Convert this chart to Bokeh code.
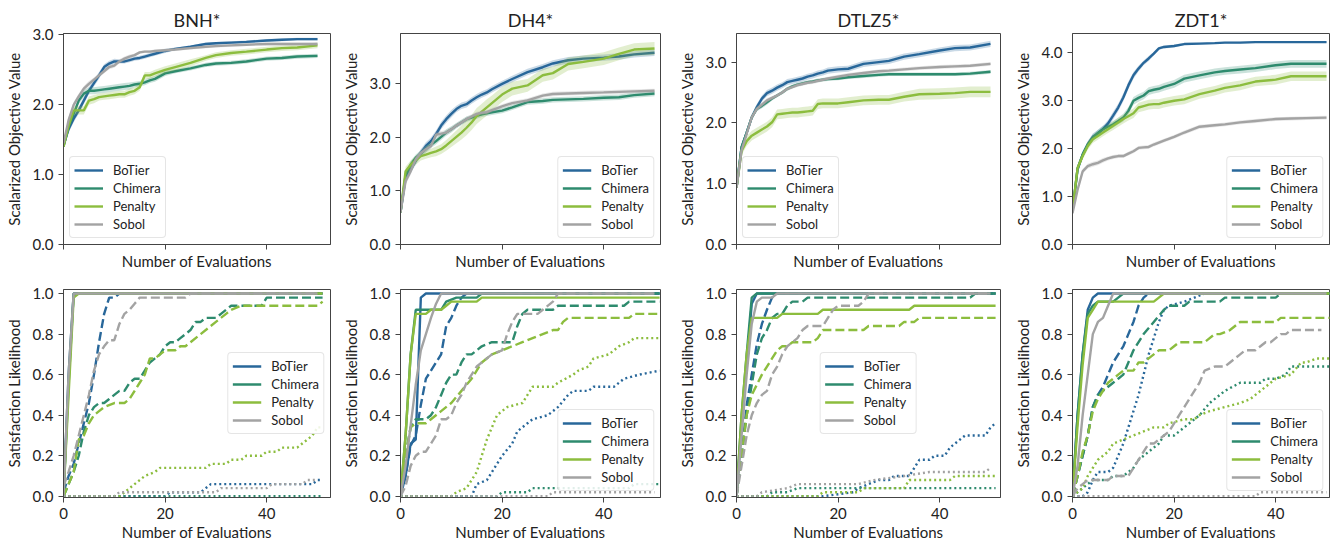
from bokeh.plotting import figure
from bokeh.layouts import row, column
from bokeh.models import Range1d, FixedTicker, PrintfTickFormatter
from bokeh.embed import file_html
from bokeh.resources import INLINE

METHODS = ["BoTier", "Chimera", "Penalty", "Sobol"]
COLORS = {"BoTier": "#28679a", "Chimera": "#2e8b6e", "Penalty": "#8cbd3e", "Sobol": "#a3a3a3"}
PROBLEMS = ["BNH*", "DH4*", "DTLZ5*", "ZDT1*"]
X_TICKS = [0, 20, 40]
SAT_TICKS = [0.0, 0.2, 0.4, 0.6, 0.8, 1.0]

# ---------------- top row: scalarized objective value (mean +/- err) ----------
X_TOP = [0, 1, 2, 3, 4, 5, 6, 7, 8, 9, 10, 11, 12, 13, 14, 15, 16, 17, 18, 20, 22, 25, 28, 30, 33, 36, 40, 43, 46, 50]

BNH_OBJ_BOTIER = [1.42, 1.65, 1.80, 1.92, 2.06, 2.20, 2.31, 2.42, 2.54, 2.59, 2.62, 2.62, 2.62, 2.64, 2.66, 2.67, 2.69, 2.71, 2.73, 2.77, 2.80, 2.83, 2.87, 2.88, 2.89, 2.90, 2.92, 2.93, 2.94, 2.94]
BNH_OBJ_CHIMERA = [1.40, 1.68, 1.87, 2.06, 2.16, 2.20, 2.20, 2.21, 2.22, 2.23, 2.24, 2.25, 2.26, 2.27, 2.29, 2.30, 2.32, 2.35, 2.37, 2.45, 2.48, 2.52, 2.57, 2.59, 2.60, 2.62, 2.66, 2.67, 2.69, 2.70]
BNH_OBJ_PENALTY = [1.40, 1.70, 1.92, 1.92, 1.92, 2.06, 2.08, 2.11, 2.12, 2.13, 2.14, 2.15, 2.15, 2.18, 2.20, 2.25, 2.42, 2.42, 2.45, 2.50, 2.54, 2.60, 2.67, 2.71, 2.74, 2.76, 2.79, 2.81, 2.82, 2.85]
BNH_OBJ_SOBOL = [1.45, 1.78, 2.00, 2.12, 2.23, 2.30, 2.36, 2.42, 2.48, 2.54, 2.56, 2.62, 2.66, 2.69, 2.71, 2.75, 2.76, 2.76, 2.77, 2.78, 2.79, 2.81, 2.83, 2.84, 2.85, 2.86, 2.87, 2.87, 2.87, 2.87]
BNH_ERR_BOTIER = [0.04, 0.05, 0.05, 0.05, 0.05, 0.05, 0.05, 0.05, 0.04, 0.04, 0.04, 0.03, 0.03, 0.03, 0.03, 0.03, 0.03, 0.03, 0.03, 0.03, 0.02, 0.02, 0.02, 0.02, 0.02, 0.02, 0.02, 0.02, 0.02, 0.02]
BNH_ERR_CHIMERA = [0.04, 0.05, 0.05, 0.05, 0.05, 0.05, 0.05, 0.05, 0.05, 0.05, 0.05, 0.05, 0.05, 0.05, 0.04, 0.04, 0.04, 0.04, 0.04, 0.04, 0.03, 0.03, 0.03, 0.03, 0.03, 0.03, 0.03, 0.03, 0.03, 0.03]
BNH_ERR_PENALTY = [0.04, 0.06, 0.06, 0.06, 0.06, 0.06, 0.06, 0.05, 0.05, 0.05, 0.05, 0.05, 0.05, 0.05, 0.05, 0.05, 0.05, 0.05, 0.05, 0.05, 0.05, 0.05, 0.04, 0.04, 0.04, 0.04, 0.04, 0.04, 0.04, 0.04]
BNH_ERR_SOBOL = [0.04, 0.04, 0.04, 0.04, 0.04, 0.04, 0.03, 0.03, 0.03, 0.03, 0.03, 0.03, 0.03, 0.03, 0.02, 0.02, 0.02, 0.02, 0.02, 0.02, 0.02, 0.02, 0.02, 0.02, 0.02, 0.02, 0.02, 0.02, 0.02, 0.02]

DH4_OBJ_BOTIER = [0.60, 1.24, 1.40, 1.56, 1.71, 1.84, 1.93, 2.06, 2.22, 2.34, 2.44, 2.53, 2.59, 2.62, 2.69, 2.75, 2.80, 2.84, 2.90, 3.00, 3.09, 3.22, 3.31, 3.38, 3.44, 3.47, 3.49, 3.51, 3.55, 3.58]
DH4_OBJ_CHIMERA = [0.60, 1.30, 1.49, 1.62, 1.70, 1.78, 1.86, 1.93, 2.01, 2.09, 2.15, 2.22, 2.28, 2.34, 2.37, 2.40, 2.43, 2.45, 2.47, 2.50, 2.56, 2.66, 2.68, 2.70, 2.71, 2.72, 2.74, 2.75, 2.79, 2.82]
DH4_OBJ_PENALTY = [0.60, 1.37, 1.49, 1.57, 1.65, 1.68, 1.71, 1.74, 1.78, 1.85, 1.93, 2.01, 2.09, 2.18, 2.28, 2.40, 2.48, 2.56, 2.64, 2.80, 2.91, 2.97, 3.16, 3.20, 3.37, 3.41, 3.47, 3.56, 3.64, 3.66]
DH4_OBJ_SOBOL = [0.60, 1.18, 1.37, 1.59, 1.71, 1.78, 1.84, 2.05, 2.07, 2.09, 2.15, 2.22, 2.28, 2.34, 2.39, 2.44, 2.46, 2.47, 2.51, 2.58, 2.64, 2.69, 2.78, 2.81, 2.82, 2.83, 2.84, 2.85, 2.86, 2.87]
DH4_ERR_BOTIER = [0.05, 0.07, 0.07, 0.07, 0.07, 0.07, 0.07, 0.07, 0.07, 0.07, 0.07, 0.06, 0.06, 0.06, 0.06, 0.06, 0.06, 0.06, 0.06, 0.06, 0.06, 0.06, 0.06, 0.06, 0.06, 0.06, 0.06, 0.06, 0.06, 0.06]
DH4_ERR_CHIMERA = [0.05, 0.07, 0.07, 0.06, 0.06, 0.06, 0.06, 0.06, 0.06, 0.06, 0.06, 0.05, 0.05, 0.05, 0.05, 0.05, 0.05, 0.05, 0.05, 0.05, 0.05, 0.05, 0.05, 0.05, 0.05, 0.05, 0.05, 0.05, 0.05, 0.05]
DH4_ERR_PENALTY = [0.05, 0.08, 0.08, 0.08, 0.08, 0.08, 0.08, 0.09, 0.09, 0.10, 0.11, 0.12, 0.13, 0.14, 0.14, 0.15, 0.15, 0.15, 0.14, 0.14, 0.13, 0.12, 0.12, 0.12, 0.12, 0.12, 0.12, 0.12, 0.12, 0.12]
DH4_ERR_SOBOL = [0.05, 0.07, 0.07, 0.06, 0.06, 0.06, 0.05, 0.05, 0.05, 0.05, 0.05, 0.05, 0.05, 0.05, 0.04, 0.04, 0.04, 0.04, 0.04, 0.04, 0.04, 0.04, 0.04, 0.04, 0.04, 0.04, 0.04, 0.04, 0.04, 0.04]

DTLZ5_OBJ_BOTIER = [0.93, 1.60, 1.84, 2.09, 2.26, 2.40, 2.49, 2.53, 2.58, 2.62, 2.67, 2.69, 2.71, 2.73, 2.76, 2.78, 2.81, 2.83, 2.86, 2.88, 2.89, 2.97, 3.00, 3.02, 3.09, 3.13, 3.19, 3.23, 3.24, 3.30]
DTLZ5_OBJ_CHIMERA = [0.93, 1.60, 1.84, 2.09, 2.23, 2.28, 2.34, 2.40, 2.45, 2.50, 2.56, 2.60, 2.63, 2.65, 2.67, 2.68, 2.70, 2.71, 2.72, 2.73, 2.75, 2.77, 2.79, 2.80, 2.80, 2.80, 2.80, 2.80, 2.81, 2.84]
DTLZ5_OBJ_PENALTY = [0.93, 1.54, 1.70, 1.79, 1.84, 1.89, 1.94, 2.01, 2.14, 2.15, 2.16, 2.17, 2.17, 2.18, 2.19, 2.20, 2.31, 2.32, 2.32, 2.32, 2.34, 2.37, 2.38, 2.38, 2.43, 2.47, 2.48, 2.49, 2.51, 2.51]
DTLZ5_OBJ_SOBOL = [0.93, 1.55, 1.82, 2.09, 2.23, 2.30, 2.37, 2.41, 2.45, 2.50, 2.56, 2.59, 2.62, 2.64, 2.66, 2.67, 2.69, 2.71, 2.73, 2.76, 2.79, 2.82, 2.85, 2.86, 2.88, 2.90, 2.92, 2.93, 2.94, 2.97]
DTLZ5_ERR_BOTIER = [0.04, 0.06, 0.05, 0.05, 0.05, 0.05, 0.05, 0.05, 0.05, 0.05, 0.05, 0.05, 0.05, 0.05, 0.05, 0.05, 0.05, 0.05, 0.05, 0.05, 0.05, 0.05, 0.05, 0.05, 0.05, 0.05, 0.05, 0.05, 0.05, 0.05]
DTLZ5_ERR_CHIMERA = [0.04, 0.05, 0.05, 0.04, 0.04, 0.04, 0.04, 0.03, 0.03, 0.03, 0.03, 0.03, 0.03, 0.03, 0.03, 0.03, 0.03, 0.03, 0.03, 0.03, 0.03, 0.03, 0.03, 0.03, 0.03, 0.03, 0.03, 0.03, 0.03, 0.03]
DTLZ5_ERR_PENALTY = [0.04, 0.07, 0.08, 0.08, 0.08, 0.08, 0.08, 0.08, 0.08, 0.08, 0.08, 0.08, 0.08, 0.08, 0.08, 0.08, 0.08, 0.08, 0.08, 0.08, 0.08, 0.08, 0.08, 0.08, 0.08, 0.09, 0.09, 0.09, 0.09, 0.09]
DTLZ5_ERR_SOBOL = [0.04, 0.05, 0.05, 0.04, 0.04, 0.04, 0.04, 0.03, 0.03, 0.03, 0.03, 0.03, 0.03, 0.03, 0.03, 0.03, 0.03, 0.03, 0.03, 0.03, 0.03, 0.03, 0.03, 0.03, 0.03, 0.03, 0.03, 0.03, 0.03, 0.03]

ZDT1_OBJ_BOTIER = [0.70, 1.56, 1.87, 2.08, 2.24, 2.31, 2.40, 2.52, 2.68, 2.85, 3.06, 3.31, 3.52, 3.66, 3.78, 3.87, 3.97, 4.08, 4.11, 4.13, 4.17, 4.18, 4.19, 4.20, 4.20, 4.21, 4.21, 4.21, 4.21, 4.21]
ZDT1_OBJ_CHIMERA = [0.70, 1.59, 1.87, 2.08, 2.22, 2.32, 2.40, 2.45, 2.50, 2.57, 2.64, 2.78, 2.99, 3.05, 3.10, 3.19, 3.22, 3.24, 3.28, 3.34, 3.45, 3.52, 3.58, 3.61, 3.64, 3.67, 3.73, 3.76, 3.76, 3.76]
ZDT1_OBJ_PENALTY = [0.70, 1.59, 1.84, 2.05, 2.19, 2.26, 2.33, 2.40, 2.47, 2.54, 2.61, 2.67, 2.73, 2.85, 2.88, 2.91, 2.92, 2.92, 2.95, 2.99, 3.02, 3.13, 3.20, 3.26, 3.31, 3.39, 3.43, 3.50, 3.50, 3.50]
ZDT1_OBJ_SOBOL = [0.65, 1.14, 1.52, 1.63, 1.67, 1.70, 1.75, 1.79, 1.82, 1.84, 1.84, 1.89, 1.94, 2.01, 2.02, 2.03, 2.08, 2.12, 2.16, 2.24, 2.33, 2.45, 2.48, 2.50, 2.54, 2.57, 2.61, 2.62, 2.63, 2.64]
ZDT1_ERR_BOTIER = [0.05, 0.07, 0.07, 0.07, 0.07, 0.07, 0.07, 0.07, 0.08, 0.08, 0.08, 0.08, 0.07, 0.06, 0.05, 0.05, 0.04, 0.03, 0.03, 0.03, 0.02, 0.02, 0.02, 0.02, 0.02, 0.02, 0.02, 0.02, 0.02, 0.02]
ZDT1_ERR_CHIMERA = [0.05, 0.07, 0.07, 0.07, 0.07, 0.07, 0.07, 0.07, 0.07, 0.07, 0.08, 0.08, 0.08, 0.08, 0.08, 0.08, 0.08, 0.08, 0.08, 0.08, 0.08, 0.08, 0.08, 0.08, 0.08, 0.08, 0.08, 0.08, 0.08, 0.08]
ZDT1_ERR_PENALTY = [0.05, 0.07, 0.07, 0.08, 0.08, 0.08, 0.08, 0.08, 0.09, 0.09, 0.09, 0.09, 0.10, 0.10, 0.10, 0.10, 0.10, 0.10, 0.10, 0.10, 0.10, 0.10, 0.10, 0.10, 0.10, 0.10, 0.10, 0.10, 0.10, 0.10]
ZDT1_ERR_SOBOL = [0.05, 0.05, 0.05, 0.05, 0.05, 0.05, 0.05, 0.04, 0.04, 0.04, 0.04, 0.04, 0.04, 0.04, 0.04, 0.04, 0.04, 0.04, 0.04, 0.04, 0.04, 0.04, 0.04, 0.04, 0.04, 0.04, 0.04, 0.04, 0.04, 0.04]

TOP_YMAX = [3.02, 3.94, 3.47, 4.39]
TOP_YTICKS = [[0, 1, 2, 3], [0, 1, 2, 3], [0, 1, 2, 3], [0, 1, 2, 3, 4]]

# ---------------- bottom row: satisfaction likelihood (x, y) breakpoints ---------
BNH_BOTIER_SOLID = [(0, 0), (1, 0.6), (2, 1.0), (51, 1.0)]
BNH_CHIMERA_SOLID = [(0, 0), (1, 0.55), (2, 1.0), (51, 1.0)]
BNH_PENALTY_SOLID = [(0, 0), (1, 0.5), (2, 0.98), (3, 1.0), (51, 1.0)]
BNH_SOBOL_SOLID = [(0, 0), (1, 0.6), (2, 1.0), (50, 1.0)]
BNH_BOTIER_DASH = [(0, 0.02), (1, 0.1), (2, 0.16), (3, 0.26), (4, 0.36), (5, 0.46), (6, 0.6), (7, 0.76), (8, 0.9), (9, 0.98), (10, 0.98), (11, 1.0), (51, 1.0)]
BNH_CHIMERA_DASH = [(0, 0), (1, 0.06), (2, 0.12), (3, 0.2), (4, 0.32), (5, 0.4), (6, 0.44), (7, 0.46), (8, 0.46), (9, 0.48), (10, 0.5), (11, 0.52), (12, 0.52), (13, 0.56), (14, 0.58), (15, 0.58), (16, 0.62), (17, 0.66), (18, 0.68), (19, 0.7), (20, 0.74), (21, 0.76), (22, 0.76), (23, 0.78), (24, 0.8), (25, 0.82), (26, 0.86), (27, 0.86), (28, 0.88), (30, 0.88), (31, 0.9), (32, 0.92), (33, 0.94), (39, 0.94), (40, 0.98), (51, 0.98)]
BNH_PENALTY_DASH = [(0, 0), (1, 0.06), (2, 0.12), (3, 0.28), (4, 0.3), (5, 0.36), (6, 0.4), (7, 0.42), (8, 0.44), (10, 0.46), (12, 0.46), (13, 0.48), (14, 0.52), (15, 0.56), (16, 0.6), (17, 0.68), (18, 0.68), (19, 0.7), (20, 0.72), (22, 0.72), (23, 0.74), (24, 0.74), (25, 0.76), (27, 0.8), (30, 0.86), (32, 0.9), (33, 0.92), (35, 0.94), (50, 0.94), (51, 0.96)]
BNH_SOBOL_DASH = [(0, 0.05), (1, 0.12), (2, 0.2), (3, 0.3), (4, 0.4), (5, 0.5), (6, 0.62), (7, 0.7), (8, 0.74), (9, 0.77), (10, 0.77), (11, 0.85), (12, 0.9), (13, 0.92), (14, 0.95), (15, 0.98), (24, 0.98), (25, 1.0), (50, 1.0)]
BNH_BOTIER_DOT = [(0, 0), (20, 0), (21, 0.02), (27, 0.02), (28, 0.04), (29, 0.06), (49, 0.06), (50, 0.08), (51, 0.08)]
BNH_CHIMERA_DOT = [(0, 0), (51, 0)]
BNH_PENALTY_DOT = [(0, 0), (11, 0), (12, 0.02), (13, 0.04), (14, 0.06), (15, 0.08), (16, 0.1), (18, 0.12), (19, 0.14), (28, 0.14), (29, 0.16), (32, 0.16), (33, 0.18), (35, 0.18), (36, 0.2), (39, 0.2), (40, 0.22), (42, 0.22), (43, 0.24), (46, 0.24), (48, 0.28), (49, 0.3), (50, 0.34), (51, 0.34)]
BNH_SOBOL_DOT = [(0, 0), (10, 0), (11, 0.02), (30, 0.02), (31, 0.04), (40, 0.04), (41, 0.06), (47, 0.06), (48, 0.08), (50, 0.08)]

DH4_BOTIER_SOLID = [(0, 0), (1, 0.1), (2, 0.26), (3, 0.28), (4, 0.98), (5, 1.0), (51, 1.0)]
DH4_CHIMERA_SOLID = [(0, 0), (1, 0.3), (2, 0.7), (3, 0.92), (8, 0.92), (9, 0.96), (11, 0.98), (15, 0.98), (16, 1.0), (51, 1.0)]
DH4_PENALTY_SOLID = [(0, 0), (1, 0.3), (2, 0.7), (3, 0.9), (5, 0.9), (6, 0.92), (8, 0.92), (9, 0.94), (10, 0.96), (15, 0.96), (16, 0.98), (51, 0.98)]
DH4_SOBOL_SOLID = [(0, 0), (1, 0.15), (2, 0.35), (3, 0.55), (4, 0.72), (5, 0.8), (6, 0.88), (7, 0.95), (8, 1.0), (50, 1.0)]
DH4_BOTIER_DASH = [(0, 0), (1, 0.1), (2, 0.25), (3, 0.3), (4, 0.45), (5, 0.58), (6, 0.62), (7, 0.66), (8, 0.7), (9, 0.84), (10, 0.88), (11, 0.94), (12, 0.98), (13, 1.0), (51, 1.0)]
DH4_CHIMERA_DASH = [(0, 0), (1, 0.2), (2, 0.34), (3, 0.38), (5, 0.38), (6, 0.4), (7, 0.44), (8, 0.5), (9, 0.56), (10, 0.6), (11, 0.6), (12, 0.66), (13, 0.7), (14, 0.7), (15, 0.72), (16, 0.74), (18, 0.76), (22, 0.76), (23, 0.84), (24, 0.9), (25, 0.92), (30, 0.92), (31, 0.94), (44, 0.94), (45, 0.96), (51, 0.96)]
DH4_PENALTY_DASH = [(0, 0), (1, 0.2), (2, 0.34), (3, 0.36), (5, 0.36), (6, 0.38), (8, 0.42), (10, 0.46), (12, 0.52), (14, 0.58), (16, 0.66), (18, 0.7), (20, 0.72), (22, 0.74), (24, 0.76), (26, 0.78), (28, 0.8), (30, 0.82), (31, 0.82), (32, 0.86), (33, 0.88), (45, 0.88), (46, 0.9), (51, 0.9)]
DH4_SOBOL_DASH = [(0, 0), (1, 0.05), (2, 0.15), (3, 0.2), (4, 0.22), (5, 0.22), (6, 0.26), (7, 0.3), (8, 0.38), (9, 0.38), (10, 0.4), (11, 0.46), (12, 0.5), (13, 0.56), (14, 0.6), (15, 0.64), (16, 0.66), (17, 0.68), (18, 0.7), (20, 0.72), (21, 0.8), (22, 0.86), (23, 0.9), (27, 0.9), (28, 0.92), (30, 0.96), (31, 1.0), (50, 1.0)]
DH4_BOTIER_DOT = [(0, 0), (14, 0), (15, 0.06), (17, 0.08), (18, 0.12), (19, 0.16), (20, 0.2), (22, 0.26), (23, 0.32), (25, 0.36), (26, 0.38), (29, 0.4), (31, 0.44), (33, 0.5), (34, 0.52), (37, 0.52), (38, 0.54), (42, 0.54), (44, 0.58), (47, 0.6), (51, 0.62)]
DH4_CHIMERA_DOT = [(0, 0), (19, 0), (20, 0.02), (25, 0.02), (26, 0.04), (45, 0.04), (46, 0.06), (51, 0.06)]
DH4_PENALTY_DOT = [(0, 0), (10, 0), (11, 0.02), (13, 0.04), (14, 0.08), (15, 0.12), (16, 0.2), (17, 0.28), (18, 0.34), (19, 0.4), (20, 0.42), (21, 0.44), (24, 0.46), (25, 0.5), (26, 0.54), (30, 0.54), (31, 0.56), (34, 0.6), (35, 0.62), (37, 0.64), (38, 0.68), (41, 0.7), (43, 0.74), (45, 0.76), (46, 0.78), (51, 0.78)]
DH4_SOBOL_DOT = [(0, 0), (29, 0), (30, 0.02), (50, 0.02)]

DTLZ5_BOTIER_SOLID = [(0, 0), (1, 0.35), (2, 0.65), (3, 0.95), (4, 1.0), (51, 1.0)]
DTLZ5_CHIMERA_SOLID = [(0, 0), (1, 0.4), (2, 0.7), (3, 0.98), (4, 1.0), (51, 1.0)]
DTLZ5_PENALTY_SOLID = [(0, 0), (1, 0.4), (2, 0.7), (3, 0.88), (8, 0.88), (9, 0.9), (16, 0.9), (17, 0.92), (34, 0.92), (35, 0.94), (51, 0.94)]
DTLZ5_SOBOL_SOLID = [(0, 0), (1, 0.3), (2, 0.6), (3, 0.85), (4, 0.96), (5, 0.98), (7, 0.98), (8, 1.0), (50, 1.0)]
DTLZ5_BOTIER_DASH = [(0, 0), (1, 0.2), (2, 0.45), (3, 0.6), (4, 0.75), (5, 0.85), (6, 0.92), (7, 0.98), (8, 1.0), (51, 1.0)]
DTLZ5_CHIMERA_DASH = [(0, 0), (1, 0.2), (2, 0.4), (3, 0.55), (4, 0.7), (5, 0.78), (6, 0.82), (7, 0.88), (8, 0.9), (9, 0.9), (10, 0.94), (11, 0.96), (13, 0.96), (14, 0.98), (46, 0.98), (47, 1.0), (51, 1.0)]
DTLZ5_PENALTY_DASH = [(0, 0), (1, 0.2), (2, 0.4), (3, 0.5), (4, 0.55), (5, 0.6), (6, 0.64), (7, 0.68), (8, 0.72), (9, 0.74), (10, 0.74), (11, 0.76), (15, 0.76), (16, 0.78), (17, 0.82), (25, 0.82), (26, 0.84), (32, 0.84), (33, 0.86), (35, 0.86), (36, 0.88), (51, 0.88)]
DTLZ5_SOBOL_DASH = [(0, 0), (1, 0.15), (2, 0.3), (3, 0.4), (4, 0.46), (5, 0.5), (6, 0.52), (7, 0.6), (8, 0.64), (9, 0.7), (10, 0.74), (11, 0.76), (12, 0.78), (13, 0.82), (14, 0.84), (17, 0.84), (18, 0.88), (19, 0.92), (20, 0.94), (24, 0.94), (25, 0.96), (26, 1.0), (50, 1.0)]
DTLZ5_BOTIER_DOT = [(0, 0), (17, 0), (23, 0.02), (24, 0.04), (26, 0.06), (28, 0.08), (30, 0.08), (31, 0.1), (34, 0.1), (35, 0.14), (36, 0.18), (38, 0.18), (39, 0.2), (41, 0.2), (42, 0.24), (44, 0.28), (45, 0.3), (49, 0.3), (50, 0.34), (51, 0.36)]
DTLZ5_CHIMERA_DOT = [(0, 0), (6, 0), (7, 0.02), (10, 0.02), (12, 0.04), (51, 0.04)]
DTLZ5_PENALTY_DOT = [(0, 0), (16, 0), (17, 0.02), (24, 0.02), (25, 0.04), (33, 0.04), (34, 0.08), (42, 0.08), (43, 0.1), (51, 0.1)]
DTLZ5_SOBOL_DOT = [(0, 0), (4, 0), (5, 0.02), (10, 0.04), (12, 0.06), (24, 0.06), (27, 0.08), (33, 0.1), (38, 0.12), (49, 0.12), (50, 0.14)]

ZDT1_BOTIER_SOLID = [(0, 0), (1, 0.4), (2, 0.7), (3, 0.92), (4, 0.98), (5, 1.0), (51, 1.0)]
ZDT1_CHIMERA_SOLID = [(0, 0), (1, 0.4), (2, 0.7), (3, 0.9), (4, 0.94), (5, 0.96), (8, 0.96), (9, 0.98), (10, 1.0), (51, 1.0)]
ZDT1_PENALTY_SOLID = [(0, 0), (1, 0.35), (2, 0.65), (3, 0.88), (4, 0.92), (5, 0.96), (16, 0.96), (17, 0.98), (18, 1.0), (51, 1.0)]
ZDT1_SOBOL_SOLID = [(0, 0), (1, 0.15), (2, 0.4), (3, 0.6), (4, 0.8), (5, 0.86), (6, 0.88), (7, 0.94), (8, 1.0), (50, 1.0)]
ZDT1_BOTIER_DASH = [(0, 0), (1, 0.1), (2, 0.2), (3, 0.3), (4, 0.44), (5, 0.5), (6, 0.54), (7, 0.6), (8, 0.66), (9, 0.7), (10, 0.74), (11, 0.8), (12, 0.86), (13, 0.94), (14, 0.98), (15, 1.0), (51, 1.0)]
ZDT1_CHIMERA_DASH = [(0, 0), (1, 0.1), (2, 0.2), (3, 0.3), (4, 0.44), (5, 0.5), (6, 0.52), (8, 0.56), (9, 0.58), (10, 0.6), (11, 0.66), (12, 0.72), (14, 0.8), (16, 0.86), (18, 0.92), (19, 0.94), (22, 0.94), (23, 0.96), (29, 0.96), (30, 0.98), (40, 0.98), (41, 1.0), (51, 1.0)]
ZDT1_PENALTY_DASH = [(0, 0), (1, 0.1), (2, 0.22), (3, 0.3), (4, 0.42), (5, 0.48), (6, 0.52), (7, 0.56), (8, 0.58), (9, 0.6), (10, 0.62), (12, 0.62), (13, 0.66), (14, 0.66), (15, 0.68), (16, 0.7), (17, 0.72), (19, 0.72), (20, 0.74), (21, 0.76), (26, 0.76), (27, 0.78), (28, 0.8), (29, 0.8), (31, 0.82), (32, 0.84), (33, 0.86), (40, 0.86), (41, 0.88), (51, 0.88)]
ZDT1_SOBOL_DASH = [(0, 0), (1, 0.04), (2, 0.06), (3, 0.08), (7, 0.08), (8, 0.1), (11, 0.1), (12, 0.14), (13, 0.18), (14, 0.22), (15, 0.26), (16, 0.26), (17, 0.28), (19, 0.32), (20, 0.36), (21, 0.4), (22, 0.44), (23, 0.48), (24, 0.52), (25, 0.56), (26, 0.62), (28, 0.64), (30, 0.64), (31, 0.66), (32, 0.68), (33, 0.7), (34, 0.72), (36, 0.72), (37, 0.74), (38, 0.76), (39, 0.76), (40, 0.78), (41, 0.8), (42, 0.8), (43, 0.82), (49, 0.82)]
ZDT1_BOTIER_DOT = [(0, 0), (2, 0), (3, 0.02), (4, 0.08), (5, 0.12), (7, 0.12), (8, 0.14), (9, 0.2), (10, 0.26), (11, 0.34), (12, 0.42), (13, 0.5), (14, 0.6), (15, 0.7), (16, 0.78), (17, 0.86), (18, 0.92), (19, 0.94), (22, 0.96), (24, 0.98), (26, 1.0), (51, 1.0)]
ZDT1_CHIMERA_DOT = [(0, 0), (2, 0.04), (3, 0.06), (4, 0.08), (7, 0.08), (8, 0.1), (10, 0.1), (11, 0.12), (12, 0.14), (13, 0.18), (14, 0.2), (15, 0.22), (16, 0.24), (17, 0.26), (18, 0.3), (20, 0.3), (21, 0.32), (23, 0.36), (25, 0.4), (27, 0.46), (29, 0.5), (30, 0.52), (33, 0.56), (37, 0.56), (38, 0.58), (40, 0.58), (42, 0.6), (43, 0.64), (51, 0.64)]
ZDT1_PENALTY_DOT = [(0, 0), (2, 0.04), (3, 0.1), (4, 0.14), (5, 0.18), (6, 0.2), (7, 0.22), (8, 0.26), (10, 0.28), (12, 0.3), (14, 0.32), (16, 0.34), (18, 0.34), (19, 0.36), (22, 0.38), (24, 0.38), (25, 0.4), (27, 0.42), (30, 0.44), (33, 0.46), (35, 0.48), (36, 0.5), (37, 0.52), (39, 0.56), (40, 0.58), (43, 0.6), (45, 0.66), (46, 0.66), (48, 0.68), (51, 0.68)]
ZDT1_SOBOL_DOT = [(0, 0), (36, 0), (37, 0.02), (50, 0.02)]

TOP_DATA = [
    {"BoTier": (BNH_OBJ_BOTIER, BNH_ERR_BOTIER), "Chimera": (BNH_OBJ_CHIMERA, BNH_ERR_CHIMERA),
     "Penalty": (BNH_OBJ_PENALTY, BNH_ERR_PENALTY), "Sobol": (BNH_OBJ_SOBOL, BNH_ERR_SOBOL)},
    {"BoTier": (DH4_OBJ_BOTIER, DH4_ERR_BOTIER), "Chimera": (DH4_OBJ_CHIMERA, DH4_ERR_CHIMERA),
     "Penalty": (DH4_OBJ_PENALTY, DH4_ERR_PENALTY), "Sobol": (DH4_OBJ_SOBOL, DH4_ERR_SOBOL)},
    {"BoTier": (DTLZ5_OBJ_BOTIER, DTLZ5_ERR_BOTIER), "Chimera": (DTLZ5_OBJ_CHIMERA, DTLZ5_ERR_CHIMERA),
     "Penalty": (DTLZ5_OBJ_PENALTY, DTLZ5_ERR_PENALTY), "Sobol": (DTLZ5_OBJ_SOBOL, DTLZ5_ERR_SOBOL)},
    {"BoTier": (ZDT1_OBJ_BOTIER, ZDT1_ERR_BOTIER), "Chimera": (ZDT1_OBJ_CHIMERA, ZDT1_ERR_CHIMERA),
     "Penalty": (ZDT1_OBJ_PENALTY, ZDT1_ERR_PENALTY), "Sobol": (ZDT1_OBJ_SOBOL, ZDT1_ERR_SOBOL)},
]
BOT_DATA = [
    {"BoTier": (BNH_BOTIER_SOLID, BNH_BOTIER_DASH, BNH_BOTIER_DOT),
     "Chimera": (BNH_CHIMERA_SOLID, BNH_CHIMERA_DASH, BNH_CHIMERA_DOT),
     "Penalty": (BNH_PENALTY_SOLID, BNH_PENALTY_DASH, BNH_PENALTY_DOT),
     "Sobol": (BNH_SOBOL_SOLID, BNH_SOBOL_DASH, BNH_SOBOL_DOT)},
    {"BoTier": (DH4_BOTIER_SOLID, DH4_BOTIER_DASH, DH4_BOTIER_DOT),
     "Chimera": (DH4_CHIMERA_SOLID, DH4_CHIMERA_DASH, DH4_CHIMERA_DOT),
     "Penalty": (DH4_PENALTY_SOLID, DH4_PENALTY_DASH, DH4_PENALTY_DOT),
     "Sobol": (DH4_SOBOL_SOLID, DH4_SOBOL_DASH, DH4_SOBOL_DOT)},
    {"BoTier": (DTLZ5_BOTIER_SOLID, DTLZ5_BOTIER_DASH, DTLZ5_BOTIER_DOT),
     "Chimera": (DTLZ5_CHIMERA_SOLID, DTLZ5_CHIMERA_DASH, DTLZ5_CHIMERA_DOT),
     "Penalty": (DTLZ5_PENALTY_SOLID, DTLZ5_PENALTY_DASH, DTLZ5_PENALTY_DOT),
     "Sobol": (DTLZ5_SOBOL_SOLID, DTLZ5_SOBOL_DASH, DTLZ5_SOBOL_DOT)},
    {"BoTier": (ZDT1_BOTIER_SOLID, ZDT1_BOTIER_DASH, ZDT1_BOTIER_DOT),
     "Chimera": (ZDT1_CHIMERA_SOLID, ZDT1_CHIMERA_DASH, ZDT1_CHIMERA_DOT),
     "Penalty": (ZDT1_PENALTY_SOLID, ZDT1_PENALTY_DASH, ZDT1_PENALTY_DOT),
     "Sobol": (ZDT1_SOBOL_SOLID, ZDT1_SOBOL_DASH, ZDT1_SOBOL_DOT)},
]

# ---------------- layout constants ----------------
FONT = "Lato"
AXIS_COLOR = "#444444"
TEXT_COLOR = "#222222"
COL_W = [337, 336, 336, 321]
BORDER_L = [63, 63, 63, 63]
FRAME_W = [267, 260, 264, 257]
PX_PER_UNIT = 5.08
TOP_H, TOP_BT, TOP_BB = 277, 33, 33
BOT_H, BOT_BT, BOT_BB = 266, 12, 46
TOP_LEGEND_LOC = ["bottom_left", "bottom_right", "bottom_left", "bottom_right"]
BOT_LEGEND_LOC = ["right", "bottom_right", "center", "bottom_right"]
DASHES = ["solid", "9 4", "2 3"]
LINE_W = 2.4


def style(p, yticks, show_xlabels, ylabel):
    p.xgrid.visible = False
    p.ygrid.visible = False
    p.outline_line_color = AXIS_COLOR
    p.outline_line_width = 1
    p.background_fill_color = "white"
    for ax in (p.xaxis[0], p.yaxis[0]):
        ax.axis_line_color = AXIS_COLOR
        ax.major_tick_line_color = AXIS_COLOR
        ax.major_tick_in = 0
        ax.major_tick_out = 5
        ax.minor_tick_in = 0
        ax.minor_tick_out = 5
        ax.major_label_text_font = FONT
        ax.major_label_text_font_size = "15px"
        ax.major_label_text_color = TEXT_COLOR
        ax.axis_label_text_font = FONT
        ax.axis_label_text_font_size = "15px"
        ax.axis_label_text_font_style = "normal"
        ax.axis_label_text_color = TEXT_COLOR
    p.yaxis.minor_tick_line_color = None
    p.yaxis.ticker = FixedTicker(ticks=yticks)
    p.yaxis.formatter = PrintfTickFormatter(format="%.1f")
    p.xaxis.axis_label = "Number of Evaluations"
    p.yaxis.axis_label = ylabel
    p.yaxis.major_label_standoff = 5
    p.yaxis.axis_label_standoff = 7
    if show_xlabels:
        p.xaxis.ticker = FixedTicker(ticks=X_TICKS)
        p.xaxis.minor_tick_line_color = None
        p.xaxis.major_label_standoff = 5
        p.xaxis.axis_label_standoff = 1
    else:
        # tick marks without labels: draw them as minor ticks of an empty major ticker
        p.xaxis.ticker = FixedTicker(ticks=[], minor_ticks=X_TICKS)
        p.xaxis.minor_tick_line_color = AXIS_COLOR
        p.xaxis.major_label_standoff = 0
        p.xaxis.axis_label_standoff = 2


def style_legend(p, loc):
    lg = p.legend[0]
    lg.location = loc
    lg.border_line_color = "#cccccc"
    lg.border_line_width = 1
    lg.background_fill_color = "white"
    lg.background_fill_alpha = 0.85
    lg.label_text_font = FONT
    lg.label_text_font_size = "13px"
    lg.label_text_color = TEXT_COLOR
    lg.glyph_width = 29
    lg.glyph_height = 18
    lg.label_height = 18
    lg.label_standoff = 10
    lg.spacing = 0
    lg.padding = 4
    lg.margin = 6
    if "border_radius" in lg.properties():
        lg.border_radius = 4


top_figs = []
bot_figs = []
for i, prob in enumerate(PROBLEMS):
    right = COL_W[i] - BORDER_L[i] - FRAME_W[i]
    x_end = FRAME_W[i] / PX_PER_UNIT

    # top: objective
    pt = figure(width=COL_W[i], height=TOP_H, title=prob,
                x_range=Range1d(0, x_end), y_range=Range1d(0, TOP_YMAX[i]),
                output_backend="svg", toolbar_location=None,
                min_border_left=BORDER_L[i], min_border_right=right,
                min_border_top=TOP_BT, min_border_bottom=TOP_BB)
    pt.title.align = "center"
    pt.title.text_font = FONT
    pt.title.text_font_size = "18px"
    pt.title.text_font_style = "normal"
    pt.title.text_color = TEXT_COLOR
    pt.title.standoff = 6
    style(pt, TOP_YTICKS[i], False, "Scalarized Objective Value")
    for m in METHODS:
        mean, err = TOP_DATA[i][m]
        lo = [a - b for a, b in zip(mean, err)]
        hi = [a + b for a, b in zip(mean, err)]
        pt.varea(x=X_TOP, y1=lo, y2=hi, fill_color=COLORS[m], fill_alpha=0.25)
        pt.line(X_TOP, mean, line_color=COLORS[m], line_width=LINE_W, legend_label=m)
    style_legend(pt, TOP_LEGEND_LOC[i])
    top_figs.append(pt)

    # bottom: satisfaction likelihood
    pb = figure(width=COL_W[i], height=BOT_H,
                x_range=Range1d(0, x_end), y_range=Range1d(-0.006, 1.02),
                output_backend="svg", toolbar_location=None,
                min_border_left=BORDER_L[i], min_border_right=right,
                min_border_top=BOT_BT, min_border_bottom=BOT_BB)
    style(pb, SAT_TICKS, True, "Satisfaction Likelihood")
    for m in METHODS:
        for k, pts in enumerate(BOT_DATA[i][m]):
            xs = [a for a, b in pts]
            ys = [b for a, b in pts]
            kw = {"legend_label": m} if k == 0 else {}
            pb.line(xs, ys, line_color=COLORS[m], line_width=LINE_W, line_dash=DASHES[k], **kw)
    style_legend(pb, BOT_LEGEND_LOC[i])
    bot_figs.append(pb)

layout = column(row(*top_figs, spacing=0), row(*bot_figs, spacing=0), spacing=0)
open("out.html", "w").write(file_html(layout, INLINE))
